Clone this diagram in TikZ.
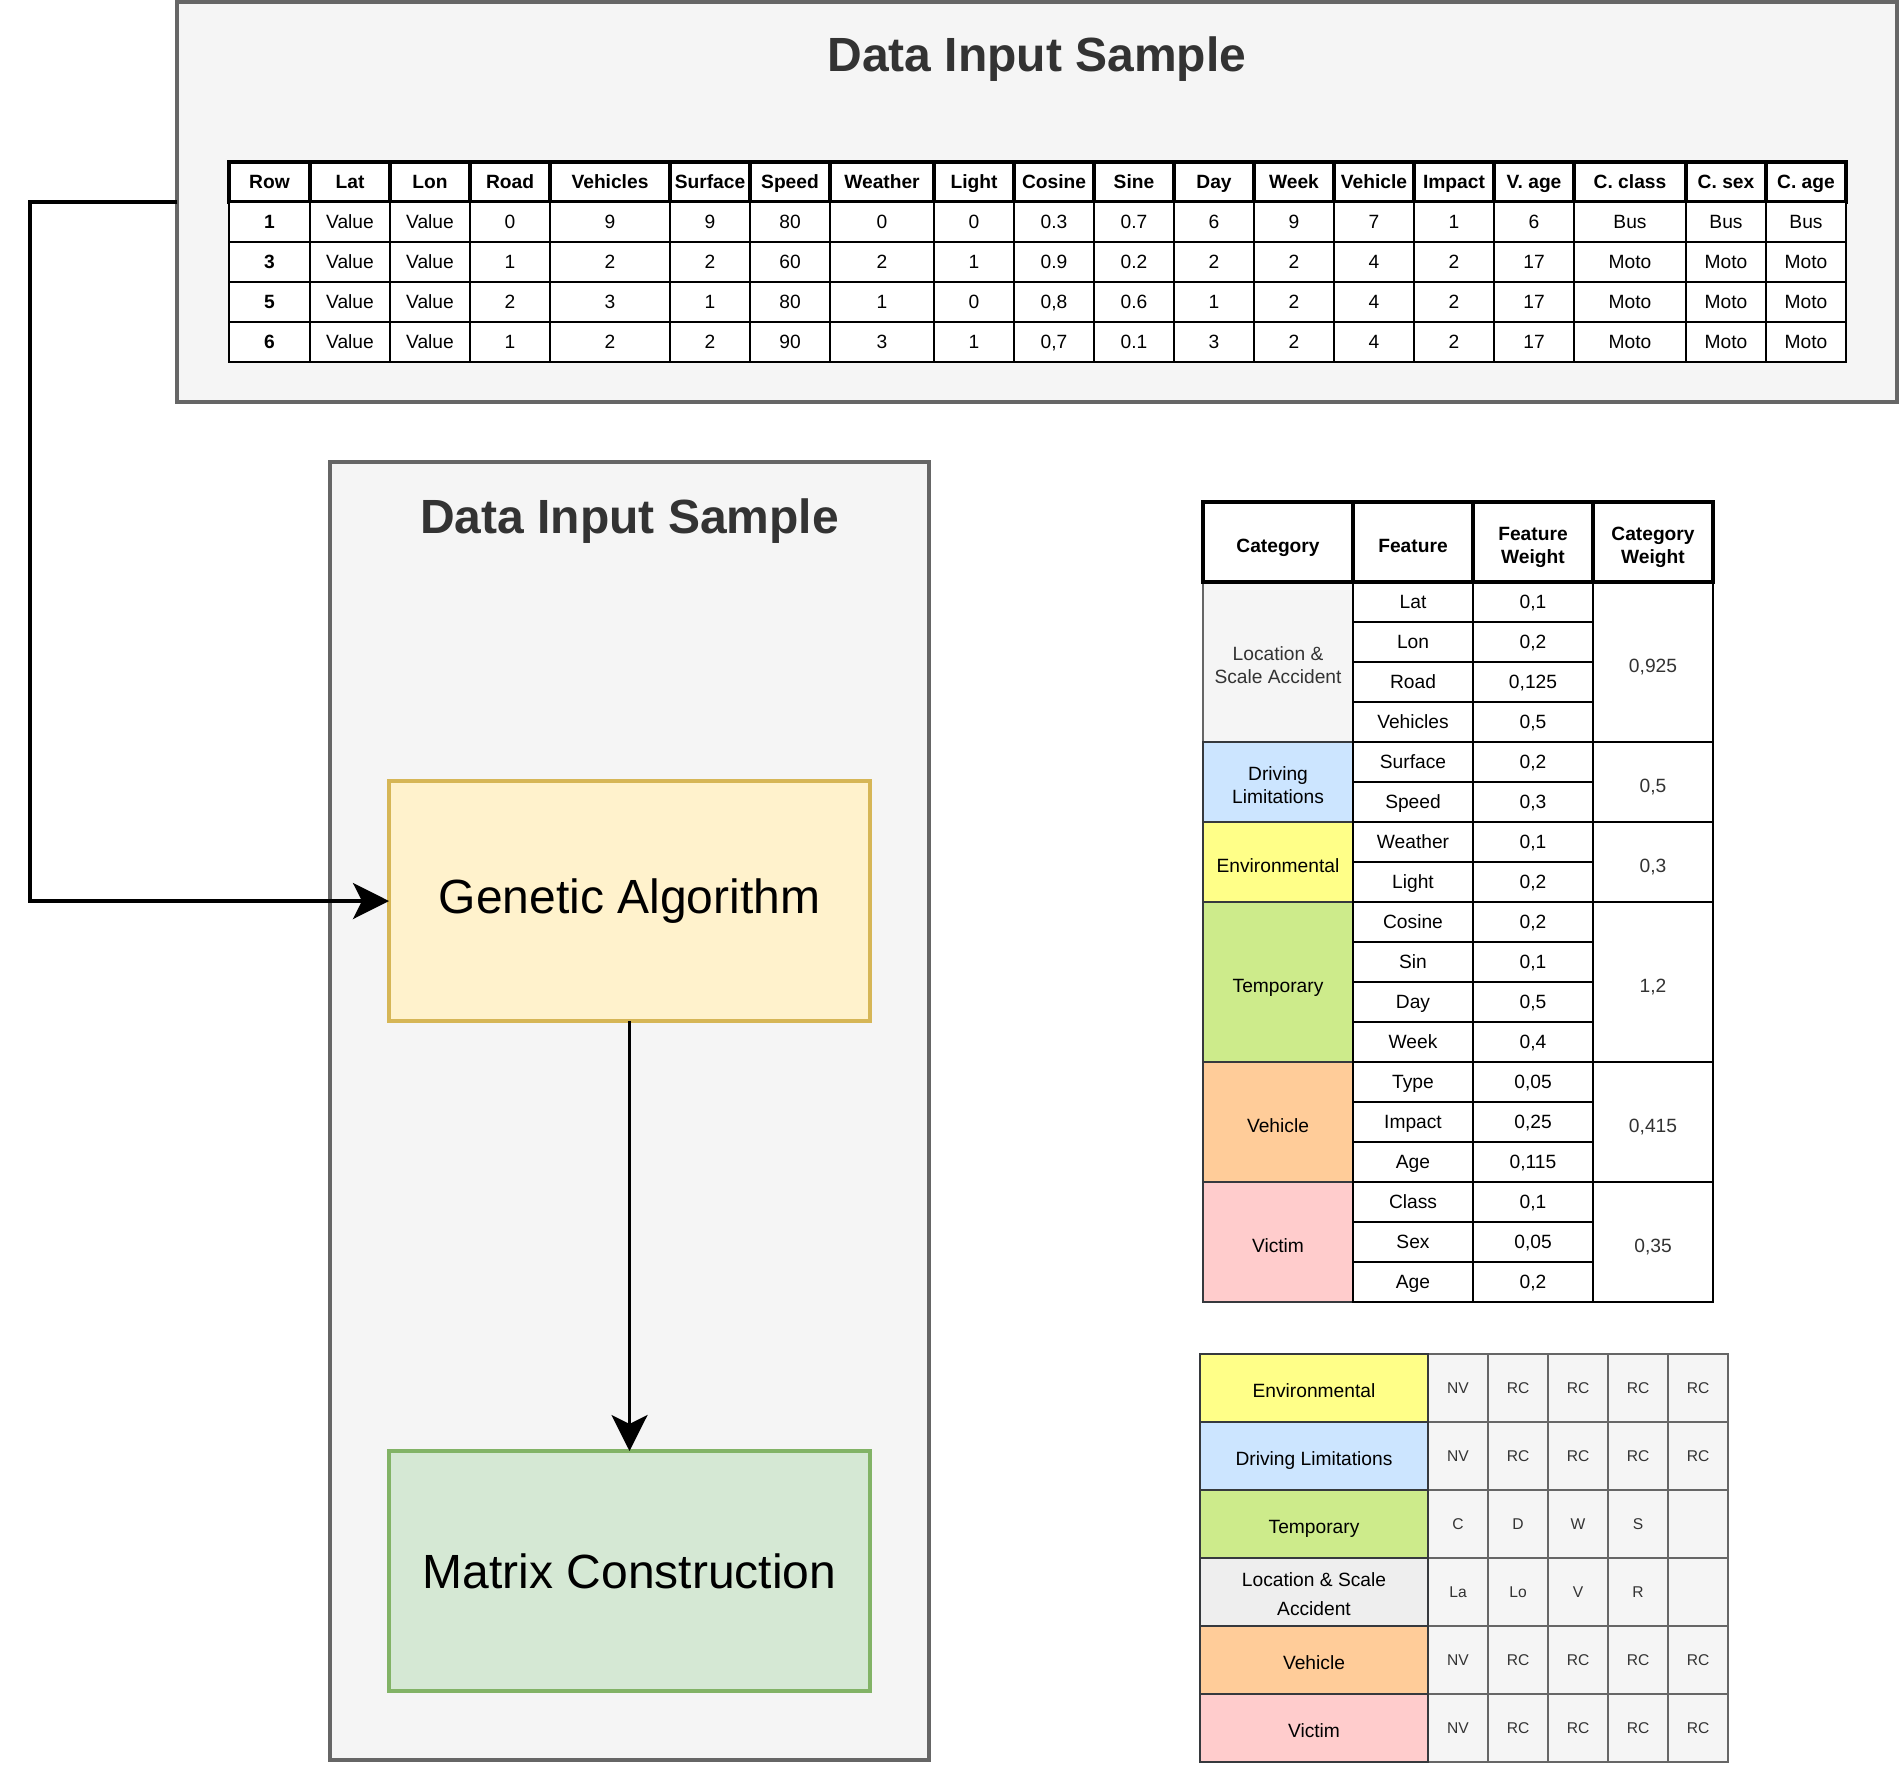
\documentclass[tikz,border=0pt]{standalone}
\usepackage{fontspec}
\setmainfont{Liberation Sans}
\usetikzlibrary{arrows.meta}
\definecolor{boxgray}{HTML}{F5F5F5}
\definecolor{edgegray}{HTML}{666666}
\definecolor{txtgray}{HTML}{333333}
\definecolor{gaFill}{HTML}{FFF2CC}
\definecolor{gaEdge}{HTML}{D6B656}
\definecolor{mcFill}{HTML}{D5E8D4}
\definecolor{mcEdge}{HTML}{82B366}
\definecolor{catEdge}{HTML}{36393D}
\definecolor{locFill}{HTML}{F5F5F5}
\definecolor{locFillB}{HTML}{EEEEEE}
\definecolor{drvFill}{HTML}{CCE5FF}
\definecolor{envFill}{HTML}{FFFF88}
\definecolor{tmpFill}{HTML}{CDEB8B}
\definecolor{vehFill}{HTML}{FFCC99}
\definecolor{vicFill}{HTML}{FFCCCC}
\newcommand\lineup[1]{\rule{0pt}{#1}}
\newcommand\linedown[1]{\rule[-#1]{0pt}{#1}}
\tikzset{
  container/.style={draw=edgegray, fill=boxgray, line width=3.6pt, inner sep=0pt, outer sep=0pt},
  titletext/.style={font=\bfseries\fontsize{48}{58}\selectfont, text=txtgray, anchor=base, inner sep=0pt},
  procbox/.style={line width=3.6pt, inner sep=0pt, outer sep=0pt, font=\fontsize{48}{58}\selectfont, text=black},
  conn/.style={line width=3.6pt, -{Stealth[length=36pt,width=36pt,inset=9pt]}},
  single/.style={text height=18.2pt, text depth=4.5pt},
  low/.style={text height=25.2pt, text depth=4.5pt},
  multi/.style={text height={}, text depth={}},
  cellbase/.style={inner sep=0pt, outer sep=0pt, font=\fontsize{19.2}{23}\selectfont, align=center, single},
  thead/.style={cellbase, draw=black, fill=white, line width=3.6pt, font=\bfseries\fontsize{19.2}{23}\selectfont},
  tbody/.style={cellbase, draw=black, fill=white, line width=2.4pt},
  tbodyb/.style={tbody, font=\bfseries\fontsize{19.2}{23}\selectfont},
  catcell/.style={cellbase, draw=catEdge, line width=2.4pt},
  cwcell/.style={tbody, text=txtgray, low},
  mlabel/.style={cellbase, draw=catEdge, line width=2.4pt, text height=23pt, text depth=4.5pt},
  mval/.style={cellbase, draw=edgegray, fill=boxgray, line width=2.4pt, text=txtgray, font=\fontsize{15.6}{19}\selectfont, text height=14.7pt, text depth=3.5pt},
}
\newcommand\cellnode[7]{%
  \node[#1, minimum width={(#4-#3)*1pt}, minimum height={(#6-#5)*1pt}] (#2) at ({(#3+#4)/2},{(#5+#6)/2}) {#7};}
\def\colx{{229,310,390,470,550,670,750,830,934,1014,1094,1174,1254,1334,1414,1494,1574,1686,1766,1846}}
\newcommand\toprow[4]{%
  \foreach \txt [count=\i from 0] in {#4} {
    \pgfmathsetmacro\xa{\colx[\i]}
    \pgfmathsetmacro\xb{\colx[\i+1]}
    \pgfmathsetmacro\ya{162+40*#1}
    \pgfmathsetmacro\yb{\ya+40}
    \ifnum\i=0
      \cellnode{#2}{t-#1-\i}{\xa}{\xb}{\ya}{\yb}{\txt}
    \else
      \cellnode{#3}{t-#1-\i}{\xa}{\xb}{\ya}{\yb}{\txt}
    \fi
  }}
\newcommand\mrow[8]{%
  \pgfmathsetmacro\ya{1354+68*#1}
  \pgfmathsetmacro\yb{\ya+68}
  \cellnode{mval}{m-#1-1}{1428}{1488}{\ya}{\yb}{#4}
  \cellnode{mval}{m-#1-2}{1488}{1548}{\ya}{\yb}{#5}
  \cellnode{mval}{m-#1-3}{1548}{1608}{\ya}{\yb}{#6}
  \cellnode{mval}{m-#1-4}{1608}{1668}{\ya}{\yb}{#7}
  \cellnode{mval}{m-#1-5}{1668}{1728}{\ya}{\yb}{#8}
  \cellnode{mlabel, fill=#2}{m-#1-0}{1200}{1428}{\ya}{\yb}{#3}}
\begin{document}
\begin{tikzpicture}[x=1pt,y=-1pt]
\useasboundingbox (0,0) rectangle (1900,1764);
\fill[white] (0,0) rectangle (1900,1764);

% containers
\node[container, minimum width=1720pt, minimum height=400pt] (topbox) at (1037,202) {};
\node[titletext] (title1) at (1037,71) {Data Input Sample};
\node[container, minimum width=599pt, minimum height=1298pt] (sidebox) at (629.5,1111) {};
\node[titletext] (title2) at (629.5,533) {Data Input Sample};

% process boxes
\node[procbox, draw=gaEdge, fill=gaFill, minimum width=481pt, minimum height=240pt] (ga) at (629.5,901) {Genetic Algorithm};
\node[procbox, draw=mcEdge, fill=mcFill, minimum width=481pt, minimum height=240pt] (mc) at (629.5,1571) {Matrix Construction};

% connectors
\coordinate (bend) at (30,202);
\draw[conn] (topbox.west) -- (bend) |- (ga.west);
\draw[conn] (ga.south) -- (mc.north);

% top data table
\toprow{0}{thead}{thead}{Row,Lat,Lon,Road,Vehicles,Surface,Speed,Weather,Light,Cosine,Sine,Day,Week,Vehicle,Impact,V. age,C. class,C. sex,C. age}
\toprow{1}{tbodyb}{tbody}{1,Value,Value,0,9,9,80,0,0,0.3,0.7,6,9,7,1,6,Bus,Bus,Bus}
\toprow{2}{tbodyb}{tbody}{3,Value,Value,1,2,2,60,2,1,0.9,0.2,2,2,4,2,17,Moto,Moto,Moto}
\toprow{3}{tbodyb}{tbody}{5,Value,Value,2,3,1,80,1,0,{0,8},0.6,1,2,4,2,17,Moto,Moto,Moto}
\toprow{4}{tbodyb}{tbody}{6,Value,Value,1,2,2,90,3,1,{0,7},0.1,3,2,4,2,17,Moto,Moto,Moto}

% weight table
\cellnode{catcell, multi, fill=locFill, text=txtgray, draw=edgegray}{c-loc}{1203}{1353}{582}{742}{\lineup{25.2pt}Location \&\\Scale Accident\linedown{4.5pt}}
\cellnode{catcell, multi, fill=drvFill}{c-drv}{1203}{1353}{742}{822}{\lineup{25.2pt}Driving\\Limitations\linedown{4.5pt}}
\cellnode{catcell, low, fill=envFill}{c-env}{1203}{1353}{822}{902}{Environmental}
\cellnode{catcell, low, fill=tmpFill}{c-tmp}{1203}{1353}{902}{1062}{Temporary}
\cellnode{catcell, low, fill=vehFill}{c-veh}{1203}{1353}{1062}{1182}{Vehicle}
\cellnode{catcell, low, fill=vicFill}{c-vic}{1203}{1353}{1182}{1302}{Victim}
\foreach \f/\w [count=\i from 0] in {Lat/{0,1},Lon/{0,2},Road/{0,125},Vehicles/{0,5},Surface/{0,2},Speed/{0,3},Weather/{0,1},Light/{0,2},Cosine/{0,2},Sin/{0,1},Day/{0,5},Week/{0,4},Type/{0,05},Impact/{0,25},Age/{0,115},Class/{0,1},Sex/{0,05},Age/{0,2}} {
  \pgfmathsetmacro\ya{582+40*\i}
  \pgfmathsetmacro\yb{\ya+40}
  \cellnode{tbody}{f-\i}{1353}{1473}{\ya}{\yb}{\f}
  \cellnode{tbody}{w-\i}{1473}{1593}{\ya}{\yb}{\w}
}
\cellnode{cwcell}{cw-loc}{1593}{1713}{582}{742}{0,925}
\cellnode{cwcell}{cw-drv}{1593}{1713}{742}{822}{0,5}
\cellnode{cwcell}{cw-env}{1593}{1713}{822}{902}{0,3}
\cellnode{cwcell}{cw-tmp}{1593}{1713}{902}{1062}{1,2}
\cellnode{cwcell}{cw-veh}{1593}{1713}{1062}{1182}{0,415}
\cellnode{cwcell}{cw-vic}{1593}{1713}{1182}{1302}{0,35}
\cellnode{thead, low}{h-cat}{1203}{1353}{502}{582}{Category}
\cellnode{thead, low}{h-feat}{1353}{1473}{502}{582}{Feature}
\cellnode{thead, multi}{h-fw}{1473}{1593}{502}{582}{\lineup{25.2pt}Feature\\Weight\linedown{4.5pt}}
\cellnode{thead, multi}{h-cw}{1593}{1713}{502}{582}{\lineup{25.2pt}Category\\Weight\linedown{4.5pt}}

% matrix
\mrow{0}{envFill}{Environmental}{NV}{RC}{RC}{RC}{RC}
\mrow{1}{drvFill}{Driving Limitations}{NV}{RC}{RC}{RC}{RC}
\mrow{2}{tmpFill}{Temporary}{C}{D}{W}{S}{}
\mrow{3}{locFillB, multi, font=\fontsize{19.2}{29}\selectfont}{\lineup{22.2pt}Location \& Scale\\Accident\linedown{4.5pt}}{La}{Lo}{V}{R}{}
\mrow{4}{vehFill}{Vehicle}{NV}{RC}{RC}{RC}{RC}
\mrow{5}{vicFill}{Victim}{NV}{RC}{RC}{RC}{RC}
\end{tikzpicture}
\end{document}
